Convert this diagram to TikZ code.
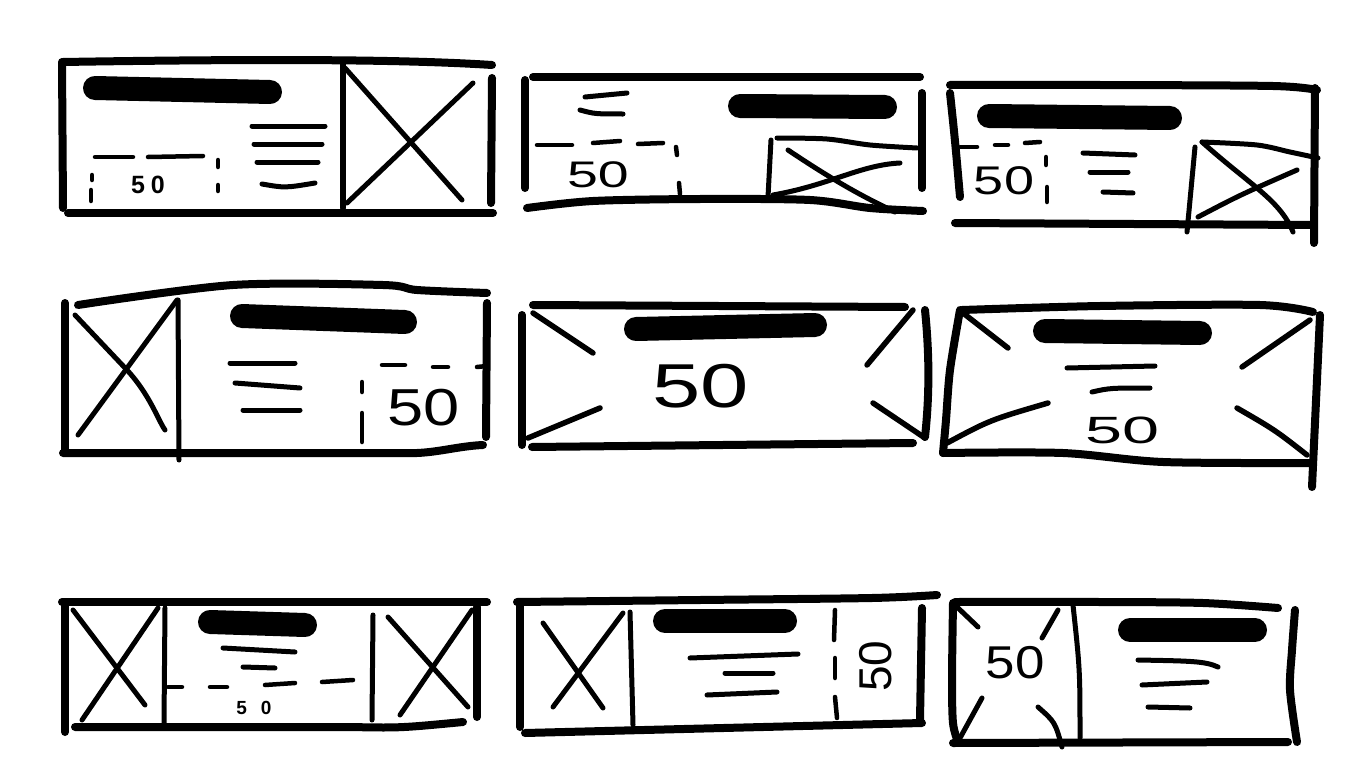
\documentclass[tikz,border=0pt]{standalone}
\usepackage{fontspec}
\setmainfont{Liberation Sans}
\newcommand{\numsz}[1]{\fontsize{#1}{#1}\selectfont}
\tikzset{
  frame/.style={line width=8pt, line cap=round, line join=round},
  thinln/.style={line width=5pt, line cap=round, line join=round},
  txtln/.style={line width=5pt, line cap=round},
  dsh/.style={line width=4.5pt, line cap=round},
  titlebar/.style={line width=24pt, line cap=round},
  num/.style={inner sep=0pt, text=black}
}
\begin{document}
\begin{tikzpicture}[x=1pt, y=-1pt]
\useasboundingbox[fill=white] (0,0) rectangle (1366,768);

% ---------- Card 1 ----------
\draw[frame] (63,62) .. controls (250,59) and (400,59) .. (492,65);
\draw[frame] (62,62) -- (63,208);
\draw[frame] (68,213) -- (493,213);
\draw[frame] (492,78) -- (491,203);
\draw[thinln, line width=6pt] (343,62) -- (343,208);
\draw[thinln] (345,68) -- (462,200);
\draw[thinln] (473,83) -- (347,203);
\draw[titlebar] (95,88) -- (270,92);
\draw[txtln] (252,126) -- (325,126);
\draw[txtln] (254,144) -- (322,144);
\draw[txtln] (257,162) -- (318,162);
\draw[txtln] (262,184) .. controls (285,188) .. (315,183);
\draw[dsh] (95,157) -- (133,157);
\draw[dsh] (148,157) -- (203,156);
\draw[dsh] (218,160) -- (218,167);
\draw[dsh] (218,185) -- (218,191);
\draw[dsh] (92,175) -- (92,180);
\draw[dsh] (91,190) -- (91,201);
\node[num, font=\numsz{25}\bfseries] (n1) at (148,185) {5\hspace{6pt}0};

% ---------- Card 2 ----------
\draw[frame] (533,77) -- (920,77);
\draw[frame] (525,80) -- (525,188);
\draw[frame] plot[smooth, tension=0.5] coordinates {(527,208) (593,201) (700,199) (810,200) (870,208) (923,211)};
\draw[frame] (922,93) -- (922,188);
\draw[titlebar] (740,106) -- (885,107);
\draw[txtln] (585,97) -- (627,93);
\draw[txtln] (580,110) .. controls (595,114) .. (623,114);
\draw[dsh] (537,145) -- (572,145);
\draw[dsh] (593,143) -- (620,141);
\draw[dsh] (638,144) -- (663,143);
\draw[dsh] (676,147) -- (677,155);
\draw[dsh] (679,183) -- (680,194);
\node[num, font=\numsz{37}, xscale=1.5] (n2) at (598,175) {50};
\draw[thinln] (771,140) -- (768,197);
\draw[thinln] plot[smooth] coordinates {(777,138) (827,139) (870,145) (917,148)};
\draw[thinln] (788,150) .. controls (840,185) and (870,200) .. (895,212);
\draw[thinln] (773,195) .. controls (830,185) and (860,165) .. (900,163);

% ---------- Card 3 ----------
\draw[frame] plot[smooth] coordinates {(950,85) (1100,85) (1273,86) (1317,90)};
\draw[frame] (950,93) .. controls (955,140) .. (960,197);
\draw[frame] (955,223) -- (1313,225);
\draw[frame] (1315,88) -- (1314,243);
\draw[titlebar] (989,116) -- (1170,118);
\draw[txtln] (1083,153) -- (1135,155);
\draw[txtln] (1090,172) -- (1128,172);
\draw[txtln] (1103,192) -- (1133,193);
\draw[dsh] (960,147) -- (977,147);
\draw[dsh] (995,145) -- (1008,145);
\draw[dsh] (1025,143) -- (1040,142);
\draw[dsh] (1046,157) -- (1046,165);
\draw[dsh] (1047,187) -- (1047,202);
\node[num, font=\numsz{40}, xscale=1.35] (n3) at (1004,181) {50};
\draw[thinln] (1195,147) -- (1187,232);
\draw[thinln] plot[smooth] coordinates {(1202,142) (1257,145) (1290,152) (1318,158)};
\draw[thinln] (1202,142) .. controls (1250,185) and (1280,200) .. (1293,232);
\draw[thinln] (1198,217) .. controls (1240,195) .. (1297,170);

% ---------- Card 4 ----------
\draw[frame] plot[smooth, tension=0.5] coordinates {(78,305) (233,285) (383,285) (417,290) (487,293)};
\draw[frame] (65,303) -- (65,452);
\draw[frame] (63,453) -- (417,453) .. controls (440,452) and (460,446) .. (483,445);
\draw[frame] (487,303) -- (486,437);
\draw[thinln] (178,300) -- (179,460);
\draw[thinln] (75,315) -- (127,370) .. controls (150,395) and (158,420) .. (165,430);
\draw[thinln] (177,300) -- (78,435);
\draw[titlebar] (242,316) -- (405,322);
\draw[txtln] (230,363) -- (295,363);
\draw[txtln] (235,383) -- (300,388);
\draw[txtln] (243,410) -- (300,410);
\draw[dsh] (382,365) -- (405,365);
\draw[dsh] (433,367) -- (448,367);
\draw[dsh] (477,367) -- (487,366);
\draw[dsh] (362,382) -- (362,392);
\draw[dsh] (362,413) -- (362,442);
\node[num, font=\numsz{52}, xscale=1.25] (n4) at (424,408) {50};

% ---------- Card 5 ----------
\draw[frame] (533,305) -- (905,307);
\draw[frame] (522,315) -- (522,445);
\draw[frame] (532,447) -- (913,443);
\draw[frame] (925,310) .. controls (930,360) and (929,400) .. (925,437);
\draw[thinln, line width=5.5pt] (533,313) -- (593,353);
\draw[thinln, line width=5.5pt] (528,438) -- (600,408);
\draw[thinln, line width=5.5pt] (913,310) -- (867,365);
\draw[thinln, line width=5.5pt] (873,403) -- (925,438);
\draw[titlebar] (636,329) -- (815,325);
\node[num, font=\numsz{62}, xscale=1.4] (n5) at (701,386) {50};

% ---------- Card 6 ----------
\draw[frame] plot[smooth] coordinates {(962,310) (1100,306) (1260,305) (1313,312)};
\draw[frame] plot[smooth] coordinates {(960,310) (950,370) (946,420) (943,453)};
\draw[frame] plot[smooth, tension=0.5] coordinates {(943,453) (1063,453) (1163,462) (1310,463)};
\draw[frame] (1320,315) -- (1312,487);
\draw[thinln, line width=5.5pt] (963,313) -- (1008,348);
\draw[thinln, line width=5.5pt] (1310,320) -- (1242,367);
\draw[thinln, line width=5.5pt] (947,443) .. controls (990,420) .. (1048,403);
\draw[thinln, line width=5.5pt] (1237,408) .. controls (1275,430) .. (1307,455);
\draw[titlebar] (1045,331) -- (1200,333);
\draw[txtln] (1067,368) -- (1155,366);
\draw[txtln] (1092,392) .. controls (1110,388) .. (1150,388);
\node[num, font=\numsz{38}, xscale=1.75] (n6) at (1122,430) {50};

% ---------- Card 7 ----------
\draw[frame] (62,602) -- (487,602);
\draw[frame] (65,602) -- (65,732);
\draw[frame] (75,727) -- (350,727) .. controls (400,728) .. (463,722);
\draw[frame] (477,607) -- (477,717);
\draw[thinln] (165,608) -- (164,723);
\draw[thinln] (373,615) -- (372,720);
\draw[thinln] (73,610) -- (145,705);
\draw[thinln] (158,608) -- (82,720);
\draw[thinln] (388,617) -- (468,707);
\draw[thinln] (472,610) -- (400,715);
\draw[titlebar] (210,622) -- (305,625);
\draw[txtln] (223,648) -- (295,652);
\draw[txtln] (243,667) -- (275,668);
\draw[dsh] (168,687) -- (182,687);
\draw[dsh] (210,687) -- (227,687);
\draw[dsh] (265,685) -- (295,683);
\draw[dsh] (322,682) -- (353,680);
\node[num, font=\numsz{19}\bfseries] (n7) at (254,708) {5\hspace{14pt}0};

% ---------- Card 8 ----------
\draw[frame] plot[smooth] coordinates {(517,602) (700,600) (872,598) (937,595)};
\draw[frame] (520,602) -- (520,727);
\draw[frame] (525,733) -- (922,723);
\draw[frame] (922,608) -- (920,720);
\draw[thinln] (630,612) -- (633,725);
\draw[thinln] (543,623) -- (603,708);
\draw[thinln] (623,613) -- (553,707);
\draw[titlebar] (665,621) -- (785,621);
\draw[txtln] (690,658) -- (798,654);
\draw[txtln] (725,673) -- (773,673);
\draw[txtln] (707,695) -- (777,692);
\draw[dsh] (835,610) -- (834,640);
\draw[dsh] (835,658) -- (835,678);
\draw[dsh] (835,697) -- (837,718);
\node[num, font=\numsz{46}, rotate=90] (n8) at (876,666) {50};

% ---------- Card 9 ----------
\draw[frame] plot[smooth] coordinates {(955,602) (1100,602) (1203,603) (1278,608)};
\draw[frame] plot[smooth] coordinates {(953,603) (952,680) (953,723) (958,742)};
\draw[frame] (953,743) -- (1288,742);
\draw[frame] plot[smooth] coordinates {(1295,610) (1292,650) (1290,690) (1297,742)};
\draw[thinln] (1073,605) .. controls (1080,670) .. (1080,738);
\draw[thinln] (957,607) -- (978,627);
\draw[thinln] (1058,610) -- (1042,638);
\draw[thinln] (982,698) -- (960,738);
\draw[thinln] (1038,707) .. controls (1055,722) .. (1062,747);
\draw[titlebar] (1130,630) -- (1255,630);
\draw[txtln] (1138,660) .. controls (1190,661) and (1205,661) .. (1218,667);
\draw[txtln] (1142,685) -- (1207,682);
\draw[txtln] (1148,707) -- (1190,708);
\node[num, font=\numsz{46}, xscale=1.15] (n9) at (1015,663) {50};

\end{tikzpicture}
\end{document}
